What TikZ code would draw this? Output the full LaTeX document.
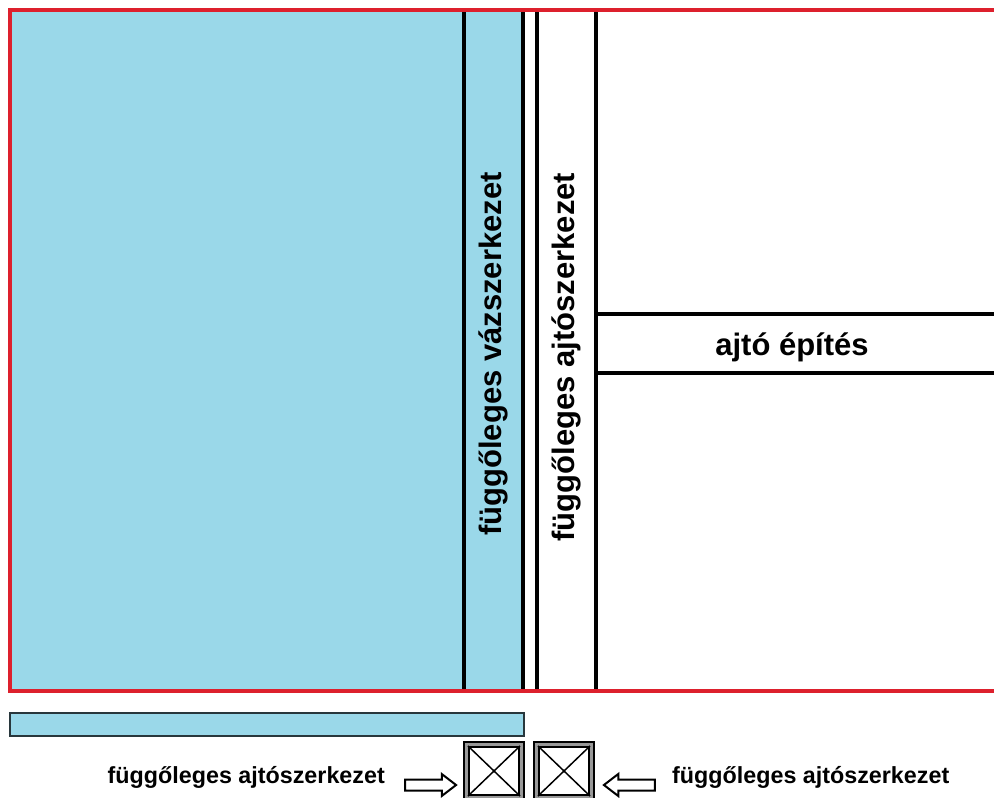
\documentclass[tikz,border=0pt]{standalone}
\usepackage{fontspec}
\setmainfont{Liberation Sans}
\usetikzlibrary{positioning,shapes.arrows}
\definecolor{wallblue}{RGB}{154,216,233}
\definecolor{framered}{RGB}{221,32,45}
\definecolor{barline}{RGB}{40,55,60}
\tikzset{font=\bfseries}
\tikzset{divider/.style={line width=3.3pt, black}}
\tikzset{redframe/.style={line width=3.3pt, framered}}
\tikzset{bigtext/.style={font=\fontsize{31}{31}\selectfont\bfseries, inner sep=0pt}}
\tikzset{smalltext/.style={font=\fontsize{23.3}{24}\selectfont\bfseries, inner sep=0pt}}
\tikzset{holarrow/.style={single arrow, draw=black, line width=2pt, fill=white,
    inner xsep=0pt, inner ysep=4.5pt, minimum height=51pt,
    single arrow head extend=5.5pt, single arrow tip angle=75}}
\tikzset{doorouter/.style={draw=black, line width=1.2pt, fill=black!40,
    minimum width=60pt, minimum height=58pt, inner sep=0pt}}
\tikzset{doorinner/.style={draw=black, line width=2pt, fill=white,
    minimum width=50pt, minimum height=48pt, inner sep=0pt}}

\begin{document}
\begin{tikzpicture}[x=1pt,y=-1pt]
  \useasboundingbox (0,0) rectangle (994,798);
  \fill[white] (0,0) rectangle (994,798);
  % wall
  \fill[wallblue] (10,10) rectangle (523,691);
  \draw[divider] (464,10) -- (464,691);
  \draw[divider] (523,10) -- (523,691);
  \draw[divider] (537,10) -- (537,691);
  \draw[divider] (596,10) -- (596,691);
  \draw[divider] (596,314) -- (996,314);
  \draw[divider] (596,373) -- (996,373);
  \draw[redframe] (996,10) -- (10,10) -- (10,691) -- (996,691);
  \node[bigtext, rotate=90] (vaz) at (493,354) {függőleges vázszerkezet};
  \node[bigtext, rotate=90] (ajto) at (566,357) {függőleges ajtószerkezet};
  \node[bigtext, anchor=base] (epites) at (792,355) {ajtó építés};
  % bar and door posts
  \draw[fill=wallblue, draw=barline, line width=1.8pt] (10,713) rectangle (524,736);
  \node[doorouter] (posta) at (494,771) {};
  \node[doorouter] (postb) at (564,771) {};
  \node[doorinner] (postain) at (posta) {};
  \node[doorinner] (postbin) at (postb) {};
  \draw[line width=1.5pt] (postain.north west) -- (postain.south east);
  \draw[line width=1.5pt] (postain.south west) -- (postain.north east);
  \draw[line width=1.5pt] (postbin.north west) -- (postbin.south east);
  \draw[line width=1.5pt] (postbin.south west) -- (postbin.north east);
  \node[holarrow] (arra) at (427,785) {};
  \node[holarrow, shape border rotate=180] (arrb) at (633,785) {};
  \node[smalltext, anchor=base east] (lbla) at (385,783) {függőleges ajtószerkezet};
  \node[smalltext, anchor=base west] (lblb) at (672,783) {függőleges ajtószerkezet};
\end{tikzpicture}
\end{document}
